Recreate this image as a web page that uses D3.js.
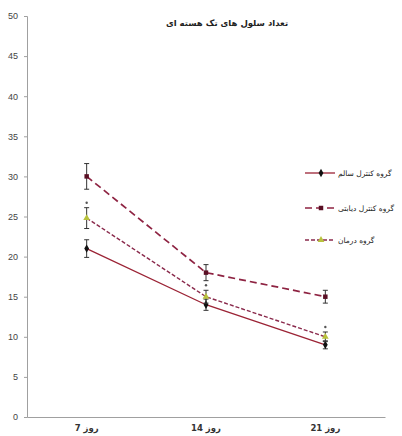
<!DOCTYPE html>
<html>
<head>
<meta charset="utf-8">
<script src="https://cdn.jsdelivr.net/npm/d3@7"></script>
<style>
  html, body { margin: 0; padding: 0; background: #fff; }
  svg { display: block; }
</style>
</head>
<body>
<svg id="chart" width="402" height="436"></svg>
<script>
// Days of measurement
const days = ["روز 7", "روز 14", "روز 21"];
// Group names
const groupNames = ["گروه کنترل سالم", "گروه کنترل دیابتی", "گروه درمان"];
// Mean counts per group
const healthy = [21, 14, 9];
const diabetic = [30, 18, 15];
const treatment = [24.8, 15, 10];
// Standard error per group
const healthyErr = [1.1, 0.7, 0.5];
const diabeticErr = [1.6, 1.0, 0.8];
const treatmentErr = [1.3, 0.8, 0.6];
// Y axis ticks
const yTicks = [0, 5, 10, 15, 20, 25, 30, 35, 40, 45, 50];
const title = "تعداد سلول های تک هسته ای";

const groups = [
  { name: groupNames[0], values: healthy, err: healthyErr, color: "#9b2335", dash: null, width: 1.3, marker: "diamond", fill: "#111" },
  { name: groupNames[1], values: diabetic, err: diabeticErr, color: "#8e2342", dash: "7,4", width: 1.7, marker: "square", fill: "#5a0f24" },
  { name: groupNames[2], values: treatment, err: treatmentErr, color: "#8a2a4c", dash: "4,2", width: 1.4, marker: "triangle", fill: "#b8c23c" }
];

const svg = d3.select("#chart");
const margin = { left: 27, right: 17, top: 16, bottom: 19 };
const W = 402, H = 436;

const x = d3.scaleBand().domain(days).range([margin.left, W - margin.right]);
const y = d3.scaleLinear().domain([0, 50]).range([H - margin.bottom, margin.top]);
const cx = d => x(d) + x.bandwidth() / 2;

// Title
svg.append("text")
  .attr("x", 227).attr("y", 26)
  .attr("text-anchor", "middle")
  .attr("font-family", "DejaVu Sans, sans-serif")
  .attr("font-size", 8.5).attr("font-weight", "bold")
  .attr("fill", "#222")
  .text(title);

// Y axis
const yAxis = svg.append("g")
  .attr("transform", `translate(${margin.left},0)`)
  .call(d3.axisLeft(y).tickValues(yTicks).tickSize(3).tickPadding(6));
yAxis.select(".domain").attr("stroke", "#a0a0a0");
yAxis.selectAll(".tick line").attr("stroke", "#a0a0a0");
yAxis.selectAll(".tick text")
  .attr("font-family", "Liberation Sans, Arial, sans-serif")
  .attr("font-size", 9).attr("fill", "#444");

// X axis
const xAxis = svg.append("g")
  .attr("transform", `translate(0,${H - margin.bottom})`)
  .call(d3.axisBottom(x).tickSize(0).tickPadding(8));
xAxis.select(".domain").attr("stroke", "#a0a0a0");
xAxis.selectAll(".tick text")
  .attr("font-family", "DejaVu Sans, sans-serif")
  .attr("font-size", 8.5).attr("font-weight", "bold").attr("fill", "#333")
  .attr("direction", "rtl").style("direction", "rtl")
  .attr("text-anchor", "middle");

const markerPath = (type, size) => {
  const sym = type === "diamond" ? d3.symbolDiamond : type === "square" ? d3.symbolSquare : d3.symbolTriangle;
  return d3.symbol().type(sym).size(size)();
};

// Lines
groups.forEach(g => {
  const line = d3.line().x((d, i) => cx(days[i])).y(d => y(d));
  svg.append("path")
    .datum(g.values)
    .attr("d", line)
    .attr("fill", "none")
    .attr("stroke", g.color)
    .attr("stroke-width", g.width)
    .attr("stroke-dasharray", g.dash);
});

// Error bars and markers
groups.forEach(g => {
  const eb = svg.append("g");
  g.values.forEach((v, i) => {
    const px = cx(days[i]);
    const y0 = y(v - g.err[i]), y1 = y(v + g.err[i]);
    eb.append("line").attr("x1", px).attr("x2", px).attr("y1", y0).attr("y2", y1)
      .attr("stroke", "#333").attr("stroke-width", 1);
    [y0, y1].forEach(yy => eb.append("line")
      .attr("x1", px - 2.5).attr("x2", px + 2.5).attr("y1", yy).attr("y2", yy)
      .attr("stroke", "#333").attr("stroke-width", 1));
  });
  svg.append("g").selectAll("path")
    .data(g.values)
    .join("path")
    .attr("transform", (d, i) => `translate(${cx(days[i])},${y(d)})`)
    .attr("d", markerPath(g.marker, 20))
    .attr("fill", g.fill);
});

// Significance marks above the treatment group
svg.append("g").selectAll("circle")
  .data(treatment)
  .join("circle")
  .attr("cx", (d, i) => cx(days[i]))
  .attr("cy", (d, i) => y(d + treatmentErr[i]) - 5)
  .attr("r", 1.2)
  .attr("fill", "#555");

// Legend
const legendY = [173, 208, 240];
groups.forEach((g, i) => {
  const lg = svg.append("g");
  lg.append("line")
    .attr("x1", 305).attr("x2", 335)
    .attr("y1", legendY[i]).attr("y2", legendY[i])
    .attr("stroke", g.color).attr("stroke-width", g.width)
    .attr("stroke-dasharray", g.dash);
  lg.append("path")
    .attr("transform", `translate(321,${legendY[i]})`)
    .attr("d", markerPath(g.marker, 20))
    .attr("fill", g.fill);
  lg.append("text")
    .attr("x", 338).attr("y", legendY[i] + 3)
    .attr("font-family", "DejaVu Sans, sans-serif")
    .attr("font-size", 7.5)
    .attr("fill", "#222")
    .text(g.name);
});
</script>
</body>
</html>
